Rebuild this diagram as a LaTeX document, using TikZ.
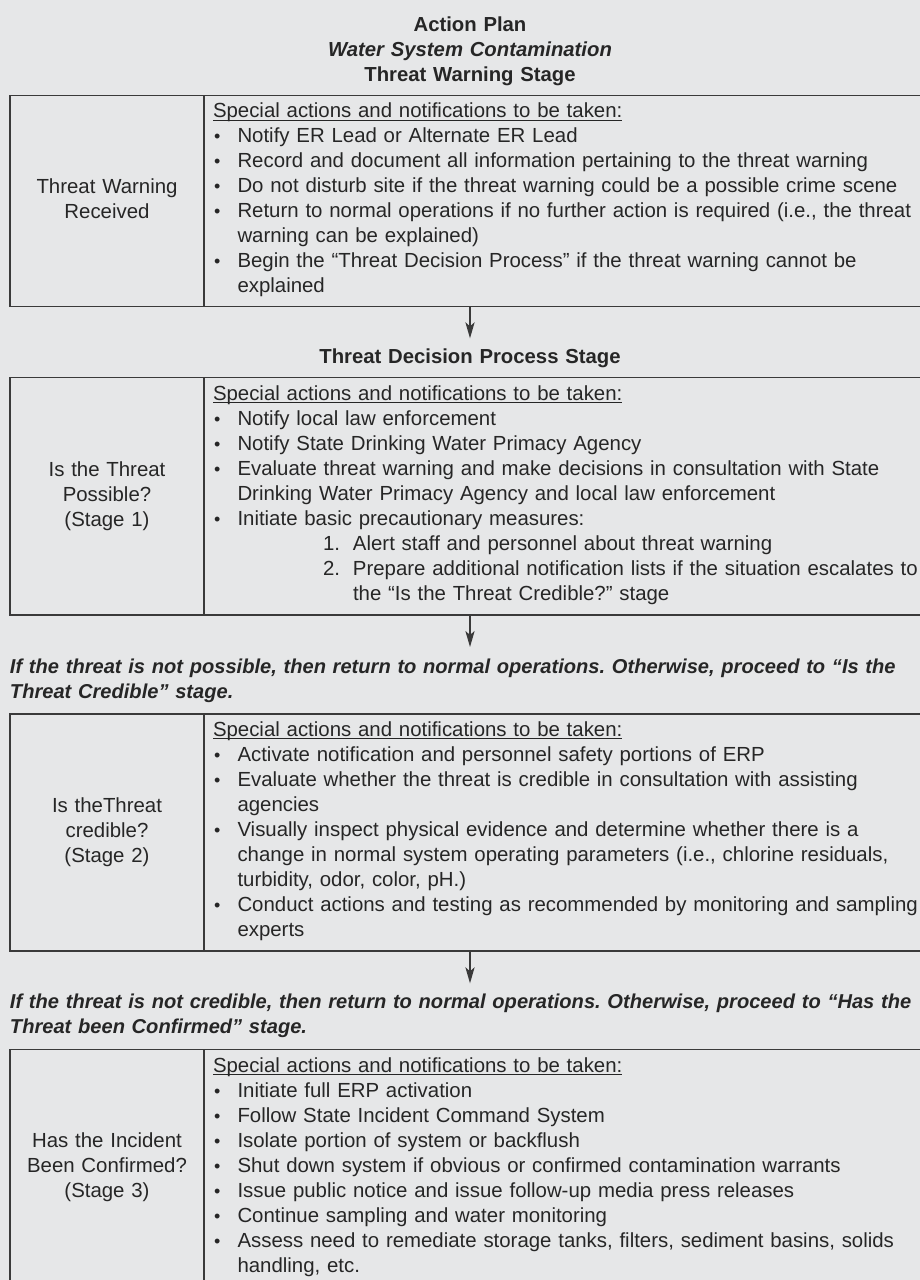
\documentclass[tikz,border=0pt]{standalone}
\usepackage{fontspec}
\setmainfont{Liberation Sans}
\usetikzlibrary{arrows.meta}

\definecolor{bg}{HTML}{E6E7E8}
\definecolor{ink}{HTML}{262626}
\definecolor{rulecol}{HTML}{3A3A3A}

% underlined lead-in line
\newcommand\leadline[1]{\setbox0\hbox{#1}\rlap{\rule[-1.45pt]{\wd0}{0.5pt}}\box0}
% bullet item and its continuation indent
\newcommand\bul{\makebox[12.25pt][l]{\hspace{0.6pt}{\fontsize{9}{9}\selectfont •}}}
\newcommand\cont{\hspace{12.25pt}}
% numbered sub-item and its continuation indent
\newcommand\numit[1]{\hspace{55pt}\makebox[15pt][l]{#1}}
\newcommand\numcont{\hspace{70pt}}

\tikzset{
  every node/.style={inner sep=0pt, outer sep=0pt, text=ink},
  basefont/.style={font=\fontsize{10.2}{12.5}\selectfont\frenchspacing},
  body/.style={basefont, text width=440pt, align=left, anchor=base west},
  stagelabel/.style={basefont, text width=90pt, align=center, anchor=base},
  heading/.style={font=\fontsize{10.15}{12.5}\selectfont\bfseries\frenchspacing, text width=440pt, align=center, anchor=base},
  note/.style={font=\fontsize{10.05}{12.5}\selectfont\bfseries\itshape\frenchspacing, text width=460pt, align=left, anchor=base west},
  stagebox/.style={draw=rulecol, line width=0.7pt, anchor=north west, minimum width=460pt},
  divider/.style={draw=rulecol, line width=0.7pt},
  flow/.style={draw=rulecol, line width=0.7pt, -{Stealth[length=8pt, width=4.6pt, inset=2pt]}},
}

\begin{document}
\begin{tikzpicture}[x=0.5pt, y=-0.5pt]
\useasboundingbox (0,0) rectangle (920,1280);
\fill[bg] (0,0) rectangle (920,1280);
\clip (0,0) rectangle (920,1280);

% title
\node[heading] (title) at (470,31.8) {Action Plan\\{\itshape Water System Contamination}\\Threat Warning Stage};

% stage frames
\node[stagebox, minimum height=105.55pt] (box1) at (10,95.6) {};
\node[stagebox, minimum height=118.85pt] (box2) at (10,377.3) {};
\node[stagebox, minimum height=118.5pt] (box3) at (10,714) {};
\node[stagebox, minimum height=120pt] (box4) at (10,1049.3) {};
\foreach \b in {box1,box2,box3,box4}
  \draw[divider] ([xshift=97pt]\b.north west) -- ([xshift=97pt]\b.south west);

% left-hand stage names
\node[stagelabel] (lab1) at (107,193.8) {Threat Warning\\Received};
\node[stagelabel] (lab2) at (107,476) {Is the Threat\\Possible?\\(Stage 1)};
\node[stagelabel] (lab3) at (107,812) {Is theThreat\\credible?\\(Stage 2)};
\node[stagelabel] (lab4) at (107,1147.6) {Has the Incident\\Been Confirmed?\\(Stage 3)};

% right-hand action lists
\node[body] (txt1) at (213,117.6) {\leadline{Special actions and notifications to be taken:}\\
\bul Notify ER Lead or Alternate ER Lead\\
\bul Record and document all information pertaining to the threat warning\\
\bul Do not disturb site if the threat warning could be a possible crime scene\\
\bul Return to normal operations if no further action is required (i.e., the threat\\
\cont warning can be explained)\\
\bul Begin the “Threat Decision Process” if the threat warning cannot be\\
\cont explained};

\node[body] (txt2) at (213,400.3) {\leadline{Special actions and notifications to be taken:}\\
\bul Notify local law enforcement\\
\bul Notify State Drinking Water Primacy Agency\\
\bul Evaluate threat warning and make decisions in consultation with State\\
\cont Drinking Water Primacy Agency and local law enforcement\\
\bul Initiate basic precautionary measures:\\
\numit{1.}Alert staff and personnel about threat warning\\
\numit{2.}Prepare additional notification lists if the situation escalates to\\
\numcont the “Is the Threat Credible?” stage};

\node[body] (txt3) at (213,736) {\leadline{Special actions and notifications to be taken:}\\
\bul Activate notification and personnel safety portions of ERP\\
\bul Evaluate whether the threat is credible in consultation with assisting\\
\cont agencies\\
\bul Visually inspect physical evidence and determine whether there is a\\
\cont change in normal system operating parameters (i.e., chlorine residuals,\\
\cont turbidity, odor, color, pH.)\\
\bul Conduct actions and testing as recommended by monitoring and sampling\\
\cont experts};

\node[body] (txt4) at (213,1072.3) {\leadline{Special actions and notifications to be taken:}\\
\bul Initiate full ERP activation\\
\bul Follow State Incident Command System\\
\bul Isolate portion of system or backflush\\
\bul Shut down system if obvious or confirmed contamination warrants\\
\bul Issue public notice and issue follow-up media press releases\\
\bul Continue sampling and water monitoring\\
\bul Assess need to remediate storage tanks, filters, sediment basins, solids\\
\cont handling, etc.};

% headings and notes between the stages
\node[heading] (head2) at (470,363.5) {Threat Decision Process Stage};
\node[note] (note3) at (10,673.6) {If the threat is not possible, then return to normal operations. Otherwise, proceed to “Is the\\Threat Credible” stage.};
\node[note] (note4) at (10,1008.8) {If the threat is not credible, then return to normal operations. Otherwise, proceed to “Has the\\Threat been Confirmed” stage.};

% flow arrows
\coordinate (tip1) at (470,338.3);
\coordinate (tip2) at (470,647);
\coordinate (tip3) at (470,983.3);
\draw[flow] (box1.south) -- (tip1);
\draw[flow] (box2.south) -- (tip2);
\draw[flow] (box3.south) -- (tip3);
\end{tikzpicture}
\end{document}
